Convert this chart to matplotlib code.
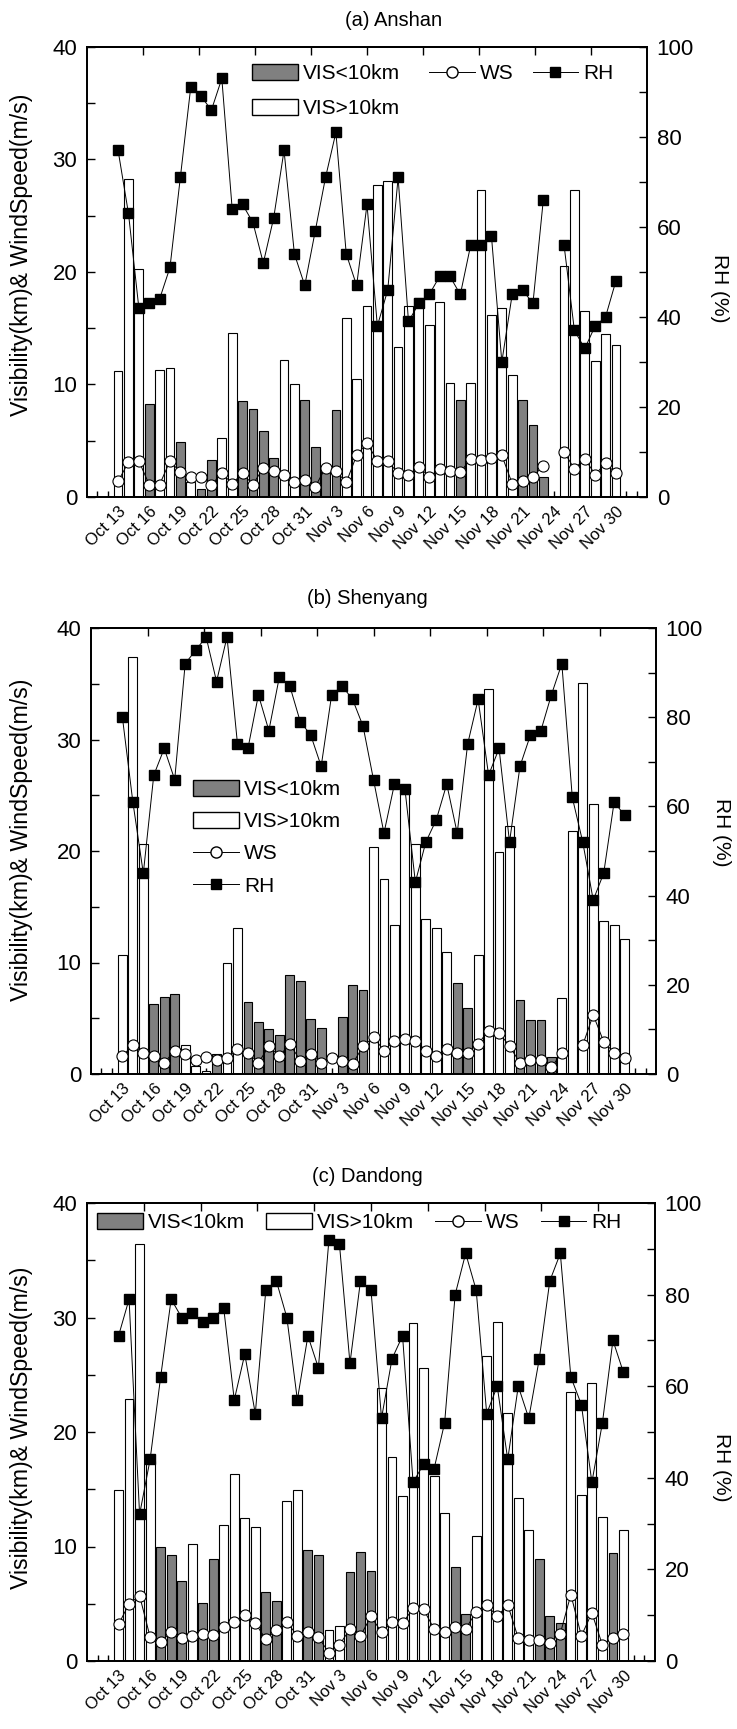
#!/usr/bin/env python3
# -*- coding: utf-8 -*-

import numpy as np
import matplotlib
matplotlib.use('Agg')
import matplotlib.pyplot as plt
from matplotlib.patches import Patch
from matplotlib.lines import Line2D

plt.rcParams['font.family'] = ['Liberation Sans', 'DejaVu Sans']

nan = np.nan

# days Oct 13 .. Nov 30
day_labels = ['Oct 13', 'Oct 16', 'Oct 19', 'Oct 22', 'Oct 25', 'Oct 28', 'Oct 31',
              'Nov 3', 'Nov 6', 'Nov 9', 'Nov 12', 'Nov 15', 'Nov 18', 'Nov 21',
              'Nov 24', 'Nov 27', 'Nov 30']
n_days = 49

# ---- (a) Anshan ----
anshan_low = [nan, nan, nan, 8.3, nan, nan, 4.9, nan, 0.7, 3.3,
              nan, nan, 8.5, 7.8, 5.9, 3.5, nan, nan, 8.6, 4.4,
              2.6, 7.7, nan, nan, nan, nan, nan, nan, nan, nan,
              nan, nan, nan, 8.6, nan, nan, nan, nan, nan, 8.6,
              6.4, 1.8, nan, nan, nan, nan, nan, nan, nan]
anshan_high = [11.2, 28.3, 20.3, nan, 11.3, 11.5, nan, 1.3, nan, nan,
               5.2, 14.6, nan, nan, nan, nan, 12.2, 10.0, nan, nan,
               nan, nan, 15.9, 10.5, 17.0, 27.7, 28.1, 13.3, 17.0, 17.7,
               15.3, 17.3, 10.1, nan, 10.1, 27.3, 16.2, 16.8, 10.8, nan,
               nan, nan, nan, 20.5, 27.3, 16.5, 12.1, 14.5, 13.5]
anshan_ws = [1.4, 3.1, 3.2, 1.1, 1.1, 3.2, 2.2, 1.8, 1.8, 1.1,
             2.1, 1.2, 2.1, 1.1, 2.6, 2.3, 2.0, 1.3, 1.5, 0.9,
             2.6, 2.3, 1.3, 3.7, 4.8, 3.2, 3.2, 2.1, 2.0, 2.7,
             1.8, 2.5, 2.3, 2.2, 3.4, 3.3, 3.5, 3.7, 1.2, 1.4,
             1.8, 2.8, nan, 4.0, 2.5, 3.4, 2.0, 3.0, 2.1]
anshan_rh = [77, 63, 42, 43, 44, 51, 71, 91, 89, 86,
             93, 64, 65, 61, 52, 62, 77, 54, 47, 59,
             71, 81, 54, 47, 65, 38, 46, 71, 39, 43,
             45, 49, 49, 45, 56, 56, 58, 30, 45, 46,
             43, 66, nan, 56, 37, 33, 38, 40, 48]

# ---- (b) Shenyang ----
shenyang_low = [nan, nan, nan, 6.3, 6.9, 7.2, nan, nan, nan, 1.8,
                nan, nan, 6.5, 4.7, 4.0, 3.5, 8.9, 8.3, 4.9, 4.1,
                nan, 5.1, 8.0, 7.5, nan, nan, nan, nan, nan, nan,
                nan, nan, 8.2, 5.9, nan, nan, nan, nan, 6.6, 4.8,
                4.8, 1.5, nan, nan, nan, nan, nan, nan, nan]
shenyang_high = [10.7, 37.4, 20.6, nan, nan, nan, 2.6, 0.7, 0.3, nan,
                 10.0, 13.1, nan, nan, nan, nan, nan, nan, nan, nan,
                 nan, nan, nan, nan, 20.4, 17.5, 13.4, 25.1, 20.6, 13.9,
                 13.1, 10.9, nan, nan, 10.7, 34.5, 19.9, 22.2, nan, nan,
                 nan, nan, 6.8, 21.8, 35.1, 24.2, 13.7, 13.4, 12.1]
shenyang_ws = [1.6, 2.6, 1.9, 1.6, 1.0, 2.1, 1.8, 1.3, 1.5, 1.3,
               1.4, 2.2, 1.9, 1.0, 2.5, 1.6, 2.7, 1.2, 1.8, 1.0,
               1.4, 1.2, 0.9, 2.5, 3.3, 2.1, 3.0, 3.1, 3.0, 2.1,
               1.6, 2.2, 1.9, 1.9, 2.7, 3.9, 3.7, 2.5, 1.0, 1.3,
               1.3, 0.6, 1.9, nan, 2.6, 5.3, 2.9, 1.9, 1.4]
shenyang_rh = [80, 61, 45, 67, 73, 66, 92, 95, 98, 88,
               98, 74, 73, 85, 77, 89, 87, 79, 76, 69,
               85, 87, 84, 78, 66, 54, 65, 64, 43, 52,
               57, 65, 54, 74, 84, 67, 73, 52, 69, 76,
               77, 85, 92, 62, 52, 39, 45, 61, 58]

# ---- (c) Dandong ----
dandong_low = [nan, nan, nan, nan, 10.0, 9.3, 7.0, nan, 5.1, 8.9,
               nan, nan, nan, nan, 6.0, 5.2, nan, nan, 9.7, 9.3,
               nan, nan, 7.8, 9.5, 7.9, nan, nan, nan, nan, nan,
               nan, nan, 8.2, 4.1, nan, nan, nan, nan, nan, nan,
               8.9, 3.9, 3.3, nan, nan, nan, nan, 9.4, nan]
dandong_high = [14.9, 22.9, 36.4, 17.5, nan, nan, nan, 10.2, nan, nan,
                11.9, 16.3, 12.5, 11.7, nan, nan, 14.0, 14.9, nan, nan,
                2.7, 3.1, nan, nan, nan, 23.8, 17.8, 14.4, 29.5, 25.6,
                16.2, 12.9, nan, nan, 10.9, 26.6, 29.6, 21.7, 14.2, 11.4,
                nan, nan, nan, 23.5, 14.5, 24.3, 12.6, nan, 11.4]
dandong_ws = [3.2, 5.0, 5.7, 2.1, 1.7, 2.5, 2.0, 2.2, 2.4, 2.3,
              3.0, 3.4, 4.0, 3.3, 1.9, 2.7, 3.4, 2.2, 2.5, 2.1,
              0.7, 1.4, 2.8, 2.2, 3.9, 2.5, 3.4, 3.3, 4.6, 4.5,
              2.8, 2.5, 3.0, 2.8, 4.3, 4.9, 3.9, 4.9, 2.0, 1.8,
              1.8, 1.6, 2.4, 5.8, 2.2, 4.2, 1.4, 2.0, 2.4]
dandong_rh = [71, 79, 32, 44, 62, 79, 75, 76, 74, 75,
              77, 57, 67, 54, 81, 83, 75, 57, 71, 64,
              92, 91, 65, 83, 81, 53, 66, 71, 39, 43,
              42, 52, 80, 89, 81, 54, 60, 44, 60, 53,
              66, 83, 89, 62, 56, 39, 52, 70, 63]

W, H = 737, 1729
GRAY = '#808080'
YLABEL = 'Visibility(km)& WindSpeed(m/s)'


def px_rect(left, right, top, bottom):
    """pixels -> figure fractions"""
    return [left / W, 1 - bottom / H, (right - left) / W, (bottom - top) / H]


def fig_xy(x, y):
    return (x / W, 1 - y / H)


def draw_panel(fig, rect, low, high, ws, rh):
    ax = fig.add_axes(rect)
    x = np.arange(n_days)
    low = np.array(low, dtype=float)
    high = np.array(high, dtype=float)
    m = ~np.isnan(high)
    ax.bar(x[m], high[m], width=0.84, color='white', edgecolor='black', linewidth=0.8, zorder=2)
    m = ~np.isnan(low)
    ax.bar(x[m], low[m], width=0.84, color=GRAY, edgecolor='black', linewidth=0.8, zorder=2)
    ax.plot(x, ws, color='black', lw=0.7, marker='o', ms=8, mfc='white', mec='black',
            mew=0.8, zorder=3)

    ax.set_xlim(-3, 51)
    ax.set_ylim(0, 40)
    ax.set_yticks([0, 10, 20, 30, 40])
    ax.set_yticks([5, 15, 25, 35], minor=True)
    ax.set_xticks(np.arange(0, 49, 3))
    ax.set_xticklabels(day_labels, rotation=45, ha='right', va='top', rotation_mode='anchor')
    ax.set_xticks(np.arange(-2, 51), minor=True)
    ax.tick_params(axis='y', which='both', direction='in', length=6, width=1, labelsize=16, pad=7)
    ax.tick_params(axis='x', which='both', direction='in', length=4, width=1, labelsize=12, pad=5)

    # top axis: ticks only, ten equal steps
    top = ax.secondary_xaxis('top')
    top.set_xticks(np.linspace(-3, 51, 11)[1:-1])
    top.tick_params(direction='in', length=6, width=1, labeltop=False)

    ax2 = ax.twinx()
    ax2.plot(x, rh, color='black', lw=0.7, marker='s', ms=7, mfc='black', mec='black', zorder=4)
    ax2.set_ylim(0, 100)
    ax2.set_yticks([0, 20, 40, 60, 80, 100])
    ax2.set_yticks([10, 30, 50, 70, 90], minor=True)
    ax2.tick_params(axis='y', which='both', direction='in', length=6, width=1, labelsize=16, pad=7)

    for a in (ax, ax2):
        for s in a.spines.values():
            s.set_linewidth(1.3)
    top.spines['top'].set_linewidth(1.3)
    return ax, ax2


def main():
    fig = plt.figure(figsize=(W / 100, H / 100), dpi=100)

    h_low = Patch(facecolor=GRAY, edgecolor='black', label='VIS<10km')
    h_high = Patch(facecolor='white', edgecolor='black', label='VIS>10km')
    h_ws = Line2D([], [], color='black', lw=0.7, marker='o', ms=8, mfc='white',
                  mec='black', label='WS')
    h_rh = Line2D([], [], color='black', lw=0.7, marker='s', ms=7, mfc='black',
                  mec='black', label='RH')
    leg_kw = dict(frameon=False, fontsize=15, handlelength=2.2, handleheight=0.8,
                  handletextpad=0.25, borderpad=0, borderaxespad=0, loc='upper left')

    # === (a) Anshan ===
    draw_panel(fig, px_rect(87, 647, 47, 497), anshan_low, anshan_high, anshan_ws, anshan_rh)
    fig.text(*fig_xy(394, 21), '(a) Anshan', fontsize=14.5, ha='center', va='center')
    fig.text(*fig_xy(22, 255), YLABEL, fontsize=16.7, rotation=90, ha='center', va='center')
    fig.text(*fig_xy(720, 288), 'RH (%)', fontsize=15, rotation=270, ha='center', va='center')
    fig.legend(handles=[h_low, h_high], ncol=1, bbox_to_anchor=fig_xy(252, 64),
               labelspacing=0.75, **leg_kw)
    fig.legend(handles=[h_ws, h_rh], ncol=2, bbox_to_anchor=fig_xy(429, 64),
               columnspacing=0.9, **leg_kw)

    # === (b) Shenyang ===
    draw_panel(fig, px_rect(91, 656, 628, 1074), shenyang_low, shenyang_high, shenyang_ws, shenyang_rh)
    fig.text(*fig_xy(367, 599), '(b) Shenyang', fontsize=14.5, ha='center', va='center')
    fig.text(*fig_xy(22, 840), YLABEL, fontsize=16.7, rotation=90, ha='center', va='center')
    fig.text(*fig_xy(722, 832), 'RH (%)', fontsize=15, rotation=270, ha='center', va='center')
    fig.legend(handles=[h_low, h_high, h_ws, h_rh], ncol=1, bbox_to_anchor=fig_xy(193, 780),
               labelspacing=0.62, **leg_kw)

    # === (c) Dandong ===
    draw_panel(fig, px_rect(87, 655, 1203, 1661), dandong_low, dandong_high, dandong_ws, dandong_rh)
    fig.text(*fig_xy(367, 1177), '(c) Dandong', fontsize=14.5, ha='center', va='center')
    fig.text(*fig_xy(22, 1428), YLABEL, fontsize=16.7, rotation=90, ha='center', va='center')
    fig.text(*fig_xy(721, 1467), 'RH (%)', fontsize=15, rotation=270, ha='center', va='center')
    fig.legend(handles=[h_low, h_high, h_ws, h_rh], ncol=4, bbox_to_anchor=fig_xy(97, 1213),
               columnspacing=1.0, **leg_kw)

    plt.savefig('out.png', dpi=100)
    plt.close()


if __name__ == "__main__":
    main()
